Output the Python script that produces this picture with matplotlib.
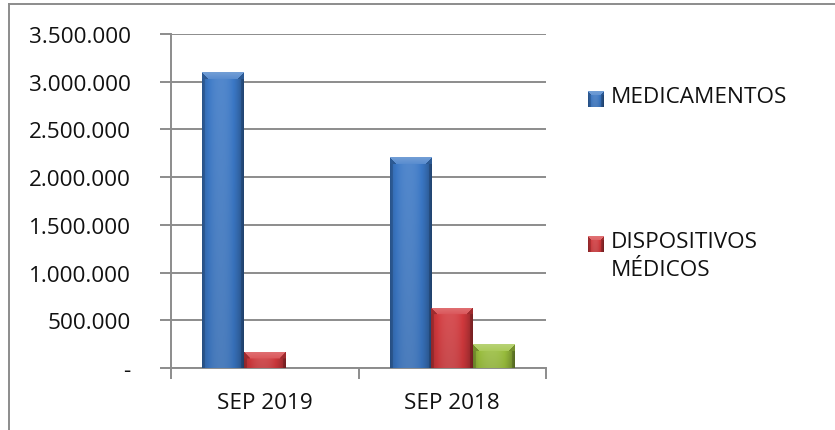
import numpy as np
import matplotlib
matplotlib.use("Agg")
import matplotlib.pyplot as plt
from matplotlib.lines import Line2D
from matplotlib.ticker import FixedLocator, FuncFormatter
from matplotlib.colors import to_rgb

plt.rcParams['font.family'] = ['Open Sans', 'DejaVu Sans']

categories = ["SEP 2019", "SEP 2018"]
medicamentos = [3100000, 2210000]
dispositivos = [170000, 630000]
otros = [0, 250000]
series_names = ["MEDICAMENTOS", "DISPOSITIVOS\nMÉDICOS", "OTROS"]
series_values = [medicamentos, dispositivos, otros]
series_colors = ["#3B78C6", "#D43A3E", "#9CC13E"]
legend_shown = [True, True, False]
yticks = [0, 500000, 1000000, 1500000, 2000000, 2500000, 3000000, 3500000]

W, H, DPI = 835, 431, 100
fig = plt.figure(figsize=(W / DPI, H / DPI), dpi=DPI)
ax = fig.add_axes([171 / W, 1 - 369 / H, (546 - 171) / W, (369 - 35) / H])

FS = 16.2
GRID = "#8C8C8C"


def shade(color, f):
    c = np.array(to_rgb(color))
    if f >= 0:
        return c + (1 - c) * f
    return c * (1 + f)


def bar_image(color, wpx, hpx, bevel=7):
    wpx = max(int(round(wpx)), 2)
    hpx = max(int(round(hpx)), 2)
    xs = np.linspace(-1, 1, wpx)
    prof = 0.12 - 0.35 * np.abs(xs + 0.1) ** 2.2
    img = np.zeros((hpx, wpx, 3))
    for j in range(wpx):
        img[:, j, :] = shade(color, prof[j])
    yf = np.linspace(0, 1, hpx)[:, None, None]
    img = img * (1 - 0.08 * yf)
    b = min(bevel, hpx // 2)
    for i in range(b):
        for j in range(wpx):
            if i <= j < wpx - i:
                img[i, j, :] = shade(color, 0.28 - 0.02 * i)
            else:
                img[i, j, :] = shade(color, -0.25)
    for j in range(min(3, wpx)):
        img[b:, j, :] = img[b:, j, :] * 0.85
        img[b:, wpx - 1 - j, :] = img[b:, wpx - 1 - j, :] * 0.85
    return np.clip(img, 0, 1)


x = np.arange(len(categories))
bw = 0.223
offsets = [-bw, 0.0, bw]
ax.set_xlim(-0.5, len(categories) - 0.5)
ax.set_ylim(0, 3500000)

ax.set_yticks(yticks)
ax.yaxis.set_major_formatter(FuncFormatter(
    lambda v, p: "-" if v == 0 else f"{int(v):,}".replace(",", ".")))
ax.set_xticks(x)
ax.set_xticklabels(categories)
ax.xaxis.set_minor_locator(FixedLocator(np.arange(-0.5, len(categories), 1.0)))

ax.grid(axis='y', color=GRID, linewidth=1.4, zorder=0)
ax.set_axisbelow(True)
for s in ["top", "right"]:
    ax.spines[s].set_visible(False)
for s in ["left", "bottom"]:
    ax.spines[s].set_color(GRID)
    ax.spines[s].set_linewidth(1.4)

ax.tick_params(axis='y', which='major', length=8, width=1.4, color=GRID,
               labelsize=FS, pad=21, labelcolor="#111111")
ax.tick_params(axis='x', which='major', length=0, labelsize=FS, pad=17,
               labelcolor="#111111")
ax.tick_params(axis='x', which='minor', length=8, width=1.4, color=GRID)

fig.canvas.draw()
to_px = ax.transData
for vals, off, col in zip(series_values, offsets, series_colors):
    bars = ax.bar(x + off, vals, width=bw, color=col, zorder=2, linewidth=0)
    for b in bars:
        h = b.get_height()
        if h <= 0:
            continue
        x0, y0 = b.get_x(), b.get_y()
        x1, y1 = x0 + b.get_width(), y0 + h
        p0 = to_px.transform((x0, y0))
        p1 = to_px.transform((x1, y1))
        img = bar_image(col, abs(p1[0] - p0[0]), abs(p1[1] - p0[1]))
        im = ax.imshow(img, extent=(x0, x1, y0, y1), aspect='auto',
                       zorder=3, interpolation='bilinear')
        im.set_clip_path(b)
ax.set_xlim(-0.5, len(categories) - 0.5)
ax.set_ylim(0, 3500000)

# legend drawn manually
legend_y = [99, 244]
k = 0
for name, col, show in zip(series_names, series_colors, legend_shown):
    if not show:
        continue
    yc = legend_y[k]
    k += 1
    size = 16
    lx, ly = 588, yc - size / 2 + 1
    img = bar_image(col, size, size, bevel=4)
    fig.figimage(img, xo=lx, yo=H - ly - size, zorder=5, resize=False)
    fig.text(611 / W, 1 - (yc - 12) / H, name, fontsize=FS, ha='left', va='top',
             linespacing=1.45, color="#111111")

# outer border (left and top)
fig.add_artist(Line2D([9 / W, 9 / W], [0, 1 - 5 / H], transform=fig.transFigure,
                      color="#8C8C8C", linewidth=1.4))
fig.add_artist(Line2D([9 / W, 1], [1 - 5 / H, 1 - 5 / H], transform=fig.transFigure,
                      color="#8C8C8C", linewidth=1.4))

fig.savefig("out.png", dpi=DPI)
